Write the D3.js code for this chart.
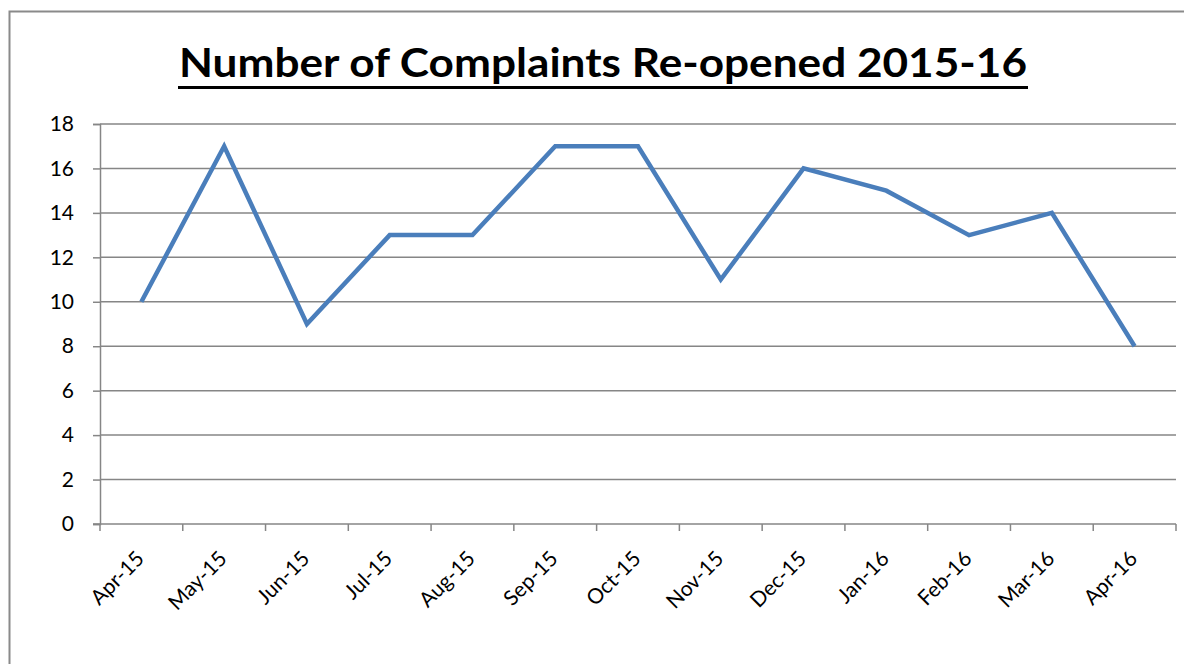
<!DOCTYPE html>
<html>
<head>
<meta charset="utf-8">
<script src="https://cdn.jsdelivr.net/npm/d3@7"></script>
<style>
  body { margin: 0; background: #fff; }
  svg { display: block; }
</style>
</head>
<body>
<script>
var months = ["Apr-15", "May-15", "Jun-15", "Jul-15", "Aug-15", "Sep-15", "Oct-15",
  "Nov-15", "Dec-15", "Jan-16", "Feb-16", "Mar-16", "Apr-16"];
var reopened = [10, 17, 9, 13, 13, 17, 17, 11, 16, 15, 13, 14, 8];
var yTicks = [0, 2, 4, 6, 8, 10, 12, 14, 16, 18];
var chartTitle = "Number of Complaints Re-opened 2015-16";

var font = "Lato, 'Open Sans', sans-serif";

var svg = d3.select("body").append("svg")
  .attr("width", 1184)
  .attr("height", 664);

// chart frame (runs off the right and bottom edge)
svg.append("rect")
  .attr("x", 9.5).attr("y", 11.5)
  .attr("width", 1200).attr("height", 700)
  .attr("fill", "#fff")
  .attr("stroke", "#8a8a8a")
  .attr("stroke-width", 2);

var plotL = 100, plotR = 1176, plotT = 124, plotB = 524;

var x = d3.scaleBand().domain(months).range([plotL, plotR]);
var y = d3.scaleLinear().domain([0, 18]).range([plotB, plotT]);

// gridlines
svg.append("g")
  .selectAll("line")
  .data(yTicks.filter(function (d) { return d > 0; }))
  .enter().append("line")
  .attr("x1", plotL).attr("x2", plotR)
  .attr("y1", function (d) { return y(d); })
  .attr("y2", function (d) { return y(d); })
  .attr("stroke", "#868686")
  .attr("stroke-width", 1.5);

// y axis
var yAxis = svg.append("g")
  .attr("transform", "translate(" + plotL + ",0)")
  .call(d3.axisLeft(y).tickValues(yTicks).tickSize(7).tickPadding(19));
yAxis.select(".domain").attr("stroke", "#868686").attr("stroke-width", 1.5);
yAxis.selectAll(".tick line").attr("stroke", "#868686").attr("stroke-width", 1.5);
yAxis.selectAll("text")
  .attr("font-family", font)
  .attr("font-size", 21)
  .attr("fill", "#000");

// x axis, ticks between categories like the original
var xAxis = svg.append("g")
  .attr("transform", "translate(0," + plotB + ")");
xAxis.append("line")
  .attr("x1", plotL - 7).attr("x2", plotR)
  .attr("stroke", "#868686").attr("stroke-width", 1.5);
xAxis.selectAll(".tk")
  .data(months.concat(["end"]))
  .enter().append("line")
  .attr("class", "tk")
  .attr("x1", function (d, i) { return plotL + i * x.step(); })
  .attr("x2", function (d, i) { return plotL + i * x.step(); })
  .attr("y1", 0).attr("y2", 7)
  .attr("stroke", "#868686").attr("stroke-width", 1.5);
xAxis.selectAll("text")
  .data(months)
  .enter().append("text")
  .attr("transform", function (d) {
    return "translate(" + (x(d) + x.bandwidth() / 2 + 4) + ",36) rotate(-45)";
  })
  .attr("text-anchor", "end")
  .attr("font-family", font)
  .attr("font-size", 21)
  .text(function (d) { return d; });

// the line
var line = d3.line()
  .x(function (d, i) { return x(months[i]) + x.bandwidth() / 2; })
  .y(function (d) { return y(d); });

svg.append("path")
  .datum(reopened)
  .attr("d", line)
  .attr("fill", "none")
  .attr("stroke", "#4a7ebb")
  .attr("stroke-width", 4.5)
  .attr("stroke-linejoin", "miter");

// title
svg.append("text")
  .attr("x", 603).attr("y", 77)
  .attr("text-anchor", "middle")
  .attr("font-family", font)
  .attr("font-weight", "bold")
  .attr("font-size", 40)
  .attr("textLength", 848)
  .attr("lengthAdjust", "spacingAndGlyphs")
  .text(chartTitle);
svg.append("rect")
  .attr("x", 178).attr("y", 86)
  .attr("width", 850).attr("height", 3)
  .attr("fill", "#000");
</script>
</body>
</html>
